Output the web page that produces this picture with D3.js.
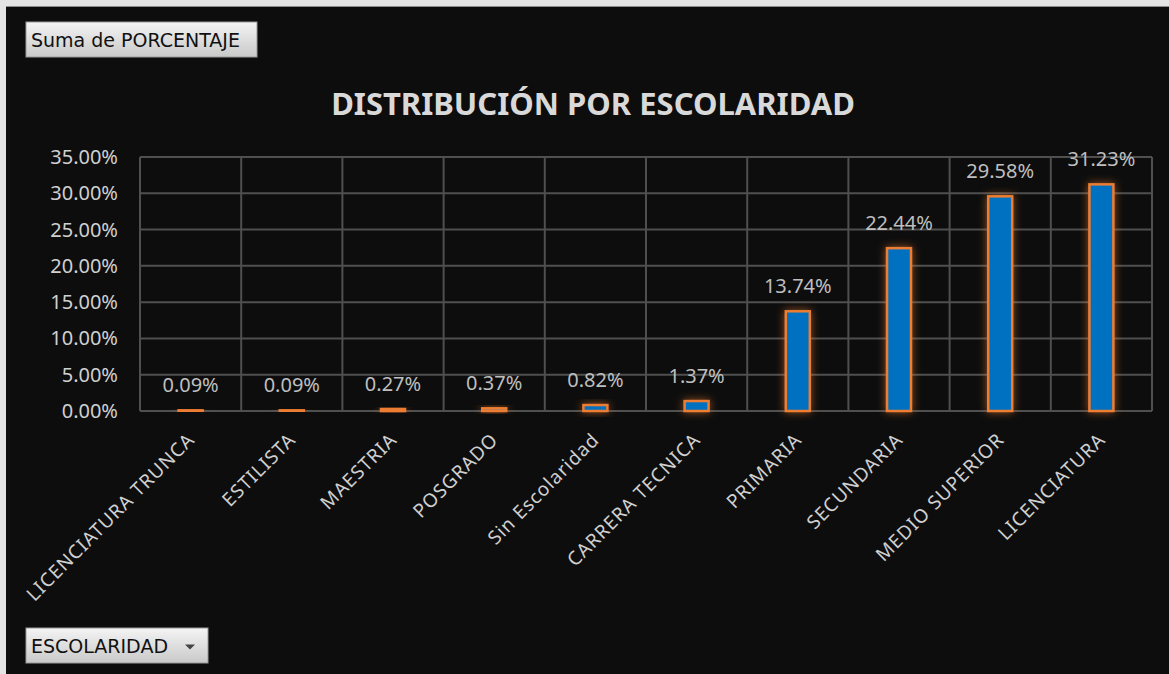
<!DOCTYPE html>
<html>
<head>
<meta charset="utf-8">
<script src="https://cdn.jsdelivr.net/npm/d3@7"></script>
<style>
  html, body { margin: 0; padding: 0; background: #e6e6e6; }
  svg { display: block; }
</style>
</head>
<body>
<svg id="chart"></svg>
<script>
// categorías y valores (fracción)
const categories = ["LICENCIATURA TRUNCA", "ESTILISTA", "MAESTRIA", "POSGRADO", "Sin Escolaridad",
  "CARRERA TECNICA", "PRIMARIA", "SECUNDARIA", "MEDIO SUPERIOR", "LICENCIATURA"];
const values = [0.0009, 0.0009, 0.0027, 0.0037, 0.0082, 0.0137, 0.1374, 0.2244, 0.2958, 0.3123];
const yTicks = [0, 0.05, 0.10, 0.15, 0.20, 0.25, 0.30, 0.35];

const width = 1169, height = 674;
const svg = d3.select("#chart").attr("width", width).attr("height", height);

const fmt = d3.format(".2%");
const plot = { left: 140, right: 1152, top: 157, bottom: 411 };

// fondo
svg.append("rect").attr("x", 0).attr("y", 0).attr("width", width).attr("height", height).attr("fill", "#e4e4e4");
svg.append("rect").attr("x", 6).attr("y", 6).attr("width", width - 6).attr("height", height - 6).attr("fill", "#0d0d0d");
svg.append("line").attr("x1", 6).attr("x2", width).attr("y1", 6.5).attr("y2", 6.5).attr("stroke", "#8a8a8a");

const defs = svg.append("defs");
// brillo naranja alrededor de las barras
const glow = defs.append("filter").attr("id", "glow")
  .attr("x", "-100%").attr("y", "-100%").attr("width", "300%").attr("height", "300%");
glow.append("feGaussianBlur").attr("in", "SourceAlpha").attr("stdDeviation", 4.5).attr("result", "blur");
glow.append("feFlood").attr("flood-color", "#ed7d31").attr("flood-opacity", 0.6);
glow.append("feComposite").attr("in2", "blur").attr("operator", "in").attr("result", "g");
const merge = glow.append("feMerge");
merge.append("feMergeNode").attr("in", "g");
merge.append("feMergeNode").attr("in", "SourceGraphic");

const btnGrad = defs.append("linearGradient").attr("id", "btn").attr("x1", 0).attr("x2", 0).attr("y1", 0).attr("y2", 1);
btnGrad.append("stop").attr("offset", "0%").attr("stop-color", "#f4f4f4");
btnGrad.append("stop").attr("offset", "100%").attr("stop-color", "#c9c9c9");

// botones de tabla dinámica
function button(x, y, w, h, label, arrow) {
  const g = svg.append("g");
  g.append("rect").attr("x", x).attr("y", y).attr("width", w).attr("height", h)
    .attr("fill", "url(#btn)").attr("stroke", "#9a9a9a").attr("stroke-width", 1);
  g.append("text").attr("x", x + 5).attr("y", y + h / 2 + 7)
    .attr("font-family", "'DejaVu Sans', sans-serif").attr("font-size", 19)
    .attr("fill", "#111").text(label);
  if (arrow) {
    const ax = x + w - 18, ay = y + h / 2 + 1;
    g.append("path").attr("d", `M${ax - 5},${ay - 2}L${ax + 5},${ay - 2}L${ax},${ay + 3}Z`).attr("fill", "#444");
  }
}
button(26, 22, 231, 35, "Suma de PORCENTAJE", false);
button(26, 628, 182, 35, "ESCOLARIDAD", true);

// título
svg.append("text").attr("x", 593).attr("y", 115).attr("text-anchor", "middle")
  .attr("font-family", "'Noto Sans', sans-serif").attr("font-weight", "bold").attr("font-size", 31)
  .attr("fill", "#d9d9d9").text("DISTRIBUCIÓN POR ESCOLARIDAD");

const x = d3.scaleBand().domain(categories).range([plot.left, plot.right]).padding(0);
const y = d3.scaleLinear().domain([0, 0.35]).range([plot.bottom, plot.top]);

// rejilla horizontal
svg.append("g").selectAll("line").data(yTicks).join("line")
  .attr("x1", plot.left).attr("x2", plot.right)
  .attr("y1", d => y(d)).attr("y2", d => y(d))
  .attr("stroke", "#4f4f4f").attr("stroke-width", 2);

// rejilla vertical (límites de categoría)
const bounds = categories.map(c => x(c)).concat([plot.right]);
svg.append("g").selectAll("line").data(bounds).join("line")
  .attr("x1", d => d).attr("x2", d => d)
  .attr("y1", plot.top).attr("y2", plot.bottom)
  .attr("stroke", "#4f4f4f").attr("stroke-width", 2);

// eje Y
svg.append("g").selectAll("text").data(yTicks).join("text")
  .attr("x", 118).attr("y", d => y(d) + 7).attr("text-anchor", "end")
  .attr("font-family", "'Noto Sans', sans-serif").attr("font-size", 20)
  .attr("fill", "#d0d0d0").text(d => fmt(d));

// barras
const barW = 24;
svg.append("g").selectAll("rect").data(values).join("rect")
  .attr("x", (d, i) => x(categories[i]) + x.bandwidth() / 2 - barW / 2)
  .attr("y", d => y(d))
  .attr("width", barW)
  .attr("height", d => y(0) - y(d))
  .attr("fill", "#0070c0").attr("stroke", "#ed7d31").attr("stroke-width", 2.5)
  .attr("filter", "url(#glow)");

// etiquetas de valor
svg.append("g").selectAll("text").data(values).join("text")
  .attr("x", (d, i) => x(categories[i]) + x.bandwidth() / 2)
  .attr("y", d => y(d) - 18).attr("text-anchor", "middle")
  .attr("font-family", "'Noto Sans', sans-serif").attr("font-size", 20)
  .attr("fill", "#bfbfbf").text(d => fmt(d));

// etiquetas del eje X, giradas
svg.append("g").selectAll("text").data(categories).join("text")
  .attr("transform", d => `translate(${x(d) + x.bandwidth() / 2 + 5},${441}) rotate(-45)`)
  .attr("text-anchor", "end")
  .attr("font-family", "'Noto Sans', sans-serif").attr("font-size", 19)
  .attr("letter-spacing", 0.9)
  .attr("fill", "#d0d0d0").text(d => d);
</script>
</body>
</html>
